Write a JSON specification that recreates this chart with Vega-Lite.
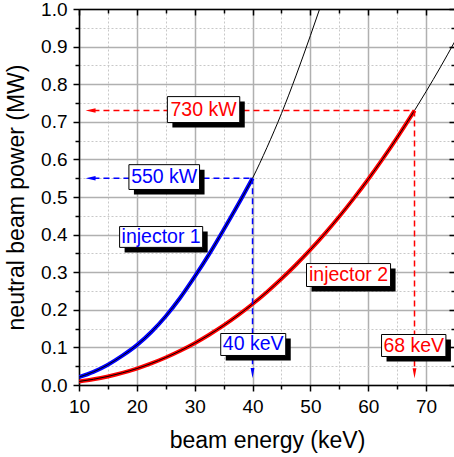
{
  "$schema": "https://vega.github.io/schema/vega-lite/v6.json",
  "width": 376,
  "height": 376,
  "autosize": {"type": "none"},
  "padding": {"left": 79, "top": 9, "right": 0, "bottom": 72},
  "background": "white",
  "config": {
    "view": {"stroke": null},
    "font": "Liberation Sans",
    "axis": {
      "labelFont": "Liberation Sans",
      "titleFont": "Liberation Sans",
      "labelColor": "black",
      "titleColor": "black",
      "tickColor": "black",
      "domainColor": "black",
      "labelFontSize": 19,
      "titleFontSize": 23,
      "titleFontWeight": "normal",
      "labelFlush": false,
      "labelOverlap": false,
      "labelBound": false,
      "tickWidth": 1.5,
      "domainWidth": 1.5,
      "labelPadding": 6,
      "titlePadding": 10
    }
  },
  "datasets": {
    "curves": [
      {"injector": "1", "energy": 10, "power": 0.021},
      {"injector": "1", "energy": 12.5, "power": 0.035},
      {"injector": "1", "energy": 15, "power": 0.054},
      {"injector": "1", "energy": 17.5, "power": 0.078},
      {"injector": "1", "energy": 20, "power": 0.106},
      {"injector": "1", "energy": 22.5, "power": 0.141},
      {"injector": "1", "energy": 25, "power": 0.183},
      {"injector": "1", "energy": 27.5, "power": 0.232},
      {"injector": "1", "energy": 30, "power": 0.288},
      {"injector": "1", "energy": 32.5, "power": 0.348},
      {"injector": "1", "energy": 35, "power": 0.413},
      {"injector": "1", "energy": 37.5, "power": 0.48},
      {"injector": "1", "energy": 40, "power": 0.55},
      {"injector": "1", "energy": 42.5, "power": 0.632},
      {"injector": "1", "energy": 45, "power": 0.722},
      {"injector": "1", "energy": 47.5, "power": 0.822},
      {"injector": "1", "energy": 50, "power": 0.929},
      {"injector": "1", "energy": 51.6, "power": 1.0},
      {"injector": "2", "energy": 10, "power": 0.0095},
      {"injector": "2", "energy": 12.5, "power": 0.0152},
      {"injector": "2", "energy": 15, "power": 0.0228},
      {"injector": "2", "energy": 17.5, "power": 0.0323},
      {"injector": "2", "energy": 20, "power": 0.0437},
      {"injector": "2", "energy": 22.5, "power": 0.0574},
      {"injector": "2", "energy": 25, "power": 0.0731},
      {"injector": "2", "energy": 27.5, "power": 0.091},
      {"injector": "2", "energy": 30, "power": 0.1112},
      {"injector": "2", "energy": 32.5, "power": 0.1337},
      {"injector": "2", "energy": 35, "power": 0.1584},
      {"injector": "2", "energy": 37.5, "power": 0.1857},
      {"injector": "2", "energy": 40, "power": 0.2154},
      {"injector": "2", "energy": 42.5, "power": 0.2476},
      {"injector": "2", "energy": 45, "power": 0.2825},
      {"injector": "2", "energy": 47.5, "power": 0.3199},
      {"injector": "2", "energy": 50, "power": 0.3599},
      {"injector": "2", "energy": 52.5, "power": 0.4027},
      {"injector": "2", "energy": 55, "power": 0.4481},
      {"injector": "2", "energy": 57.5, "power": 0.4964},
      {"injector": "2", "energy": 60, "power": 0.5473},
      {"injector": "2", "energy": 62.5, "power": 0.6013},
      {"injector": "2", "energy": 65, "power": 0.658},
      {"injector": "2", "energy": 67.5, "power": 0.7177},
      {"injector": "2", "energy": 68, "power": 0.73},
      {"injector": "2", "energy": 70, "power": 0.7804},
      {"injector": "2", "energy": 72.5, "power": 0.8459},
      {"injector": "2", "energy": 75, "power": 0.9146}
    ],
    "guides": [
      {"injector": "2", "x1": 12.5, "x2": 68, "y1": 0.73, "y2": 0.73},
      {"injector": "2", "x1": 68, "x2": 68, "y1": 0.73, "y2": 0.04},
      {"injector": "1", "x1": 12.5, "x2": 40, "y1": 0.55, "y2": 0.55},
      {"injector": "1", "x1": 40, "x2": 40, "y1": 0.55, "y2": 0.04}
    ],
    "arrows": [
      {"injector": "2", "dir": "left", "x": 12.0, "y": 0.73},
      {"injector": "1", "dir": "left", "x": 12.0, "y": 0.55},
      {"injector": "1", "dir": "down", "x": 40, "y": 0.032},
      {"injector": "2", "dir": "down", "x": 68, "y": 0.031}
    ],
    "notes": [
      {"injector": "2", "label": "730 kW", "x1": 25.28, "x2": 37.79, "y1": 0.698, "y2": 0.767, "xc": 31.53, "yc": 0.7325},
      {"injector": "1", "label": "550 kW", "x1": 18.63, "x2": 30.84, "y1": 0.52, "y2": 0.586, "xc": 24.73, "yc": 0.553},
      {"injector": "1", "label": "injector 1", "x1": 17.02, "x2": 31.38, "y1": 0.366, "y2": 0.4215, "xc": 24.2, "yc": 0.394},
      {"injector": "2", "label": "injector 2", "x1": 49.33, "x2": 63.86, "y1": 0.262, "y2": 0.323, "xc": 56.6, "yc": 0.2926},
      {"injector": "1", "label": "40 keV", "x1": 34.5, "x2": 45.74, "y1": 0.0785, "y2": 0.137, "xc": 40.12, "yc": 0.108},
      {"injector": "2", "label": "68 keV", "x1": 62.3, "x2": 73.43, "y1": 0.0758, "y2": 0.1343, "xc": 67.87, "yc": 0.105}
    ]
  },
  "layer": [
    {
      "data": {"name": "curves"},
      "transform": [{"filter": "datum.injector == '1' && datum.energy <= 40"}],
      "mark": {"type": "line", "color": "#0000ff", "strokeWidth": 4, "interpolate": "monotone", "clip": true},
      "encoding": {
        "x": {"field": "energy", "type": "quantitative", "scale": {"domain": [10, 75], "nice": false, "zero": false},
          "axis": {"orient": "bottom", "values": [15, 25, 35, 45, 55, 65, 75], "labels": false, "title": null, "tickSize": 4, "domain": false,
            "grid": true, "gridDash": [2, 2], "gridColor": "#c8c8c8", "gridWidth": 1}},
        "y": {"field": "power", "type": "quantitative", "scale": {"domain": [0, 1], "nice": false, "zero": false},
          "axis": {"orient": "left", "values": [0.05, 0.15, 0.25, 0.35, 0.45, 0.55, 0.65, 0.75, 0.85, 0.95], "labels": false, "title": null, "tickSize": 4, "domain": false,
            "grid": true, "gridDash": [2, 2], "gridColor": "#c8c8c8", "gridWidth": 1}}
      }
    },
    {
      "data": {"name": "curves"},
      "transform": [{"filter": "datum.injector == '2' && datum.energy <= 68"}],
      "mark": {"type": "line", "color": "#ff0000", "strokeWidth": 4, "interpolate": "monotone", "clip": true},
      "encoding": {
        "x": {"field": "energy", "type": "quantitative", "scale": {"domain": [10, 75], "nice": false, "zero": false},
          "axis": {"orient": "bottom", "values": [10, 20, 30, 40, 50, 60, 70], "format": "d", "title": "beam energy (keV)", "tickSize": 6, "domain": true,
            "grid": true, "gridColor": "#b0b0b0", "gridWidth": 1.5, "titlePadding": 13}},
        "y": {"field": "power", "type": "quantitative", "scale": {"domain": [0, 1], "nice": false, "zero": false},
          "axis": {"orient": "left", "values": [0, 0.1, 0.2, 0.3, 0.4, 0.5, 0.6, 0.7, 0.8, 0.9, 1.0], "format": ".1f", "title": "neutral beam power (MW)", "tickSize": 6, "domain": true,
            "grid": true, "gridColor": "#b0b0b0", "gridWidth": 1.5, "titlePadding": 12}}
      }
    },
    {
      "data": {"name": "curves"},
      "transform": [{"filter": "datum.injector == '1'"}],
      "mark": {"type": "line", "color": "black", "strokeWidth": 1, "interpolate": "monotone", "clip": true},
      "encoding": {
        "x": {"field": "energy", "type": "quantitative", "scale": {"domain": [10, 75], "nice": false, "zero": false},
          "axis": {"orient": "top", "values": [10, 20, 30, 40, 50, 60, 70], "labels": false, "title": null, "tickSize": -6, "domain": true, "grid": false}},
        "y": {"field": "power", "type": "quantitative", "scale": {"domain": [0, 1], "nice": false, "zero": false},
          "axis": {"orient": "right", "values": [0, 0.1, 0.2, 0.3, 0.4, 0.5, 0.6, 0.7, 0.8, 0.9, 1.0], "labels": false, "title": null, "tickSize": -6, "domain": true, "grid": false}}
      }
    },
    {
      "data": {"name": "curves"},
      "transform": [{"filter": "datum.injector == '2'"}],
      "mark": {"type": "line", "color": "black", "strokeWidth": 1, "interpolate": "monotone", "clip": true},
      "encoding": {
        "x": {"field": "energy", "type": "quantitative", "scale": {"domain": [10, 75], "nice": false, "zero": false},
          "axis": {"orient": "top", "values": [15, 25, 35, 45, 55, 65, 75], "labels": false, "title": null, "tickSize": -4, "domain": false, "grid": false}},
        "y": {"field": "power", "type": "quantitative", "scale": {"domain": [0, 1], "nice": false, "zero": false},
          "axis": {"orient": "right", "values": [0.05, 0.15, 0.25, 0.35, 0.45, 0.55, 0.65, 0.75, 0.85, 0.95], "labels": false, "title": null, "tickSize": -4, "domain": false, "grid": false}}
      }
    },
    {
      "data": {"name": "guides"},
      "mark": {"type": "rule", "strokeDash": [6, 4], "strokeWidth": 1.5},
      "encoding": {
        "x": {"field": "x1", "type": "quantitative", "axis": null},
        "x2": {"field": "x2"},
        "y": {"field": "y1", "type": "quantitative", "axis": null},
        "y2": {"field": "y2"},
        "color": {"field": "injector", "type": "nominal", "scale": {"domain": ["1", "2"], "range": ["#0000ff", "#ff0000"]}, "legend": null}
      }
    },
    {
      "data": {"name": "arrows"},
      "mark": {"type": "point", "filled": true, "opacity": 1, "size": 100, "strokeWidth": 0},
      "encoding": {
        "x": {"field": "x", "type": "quantitative", "axis": null},
        "y": {"field": "y", "type": "quantitative", "axis": null},
        "shape": {"field": "dir", "type": "nominal", "scale": {"domain": ["left", "down"], "range": ["M1,-0.45L-1,0L1,0.45Z", "M-0.38,-1L0.38,-1L0,1Z"]}, "legend": null},
        "color": {"field": "injector", "type": "nominal", "scale": {"domain": ["1", "2"], "range": ["#0000ff", "#ff0000"]}, "legend": null}
      }
    },
    {
      "data": {"name": "notes"},
      "mark": {"type": "rect", "color": "black", "xOffset": 5, "x2Offset": 5, "yOffset": 5, "y2Offset": 5},
      "encoding": {
        "x": {"field": "x1", "type": "quantitative", "axis": null},
        "x2": {"field": "x2"},
        "y": {"field": "y1", "type": "quantitative", "axis": null},
        "y2": {"field": "y2"}
      }
    },
    {
      "data": {"name": "notes"},
      "mark": {"type": "rect", "fill": "white", "stroke": "black", "strokeWidth": 1},
      "encoding": {
        "x": {"field": "x1", "type": "quantitative", "axis": null},
        "x2": {"field": "x2"},
        "y": {"field": "y1", "type": "quantitative", "axis": null},
        "y2": {"field": "y2"}
      }
    },
    {
      "data": {"name": "notes"},
      "mark": {"type": "text", "font": "Liberation Sans", "fontSize": 19.5, "align": "center", "baseline": "middle"},
      "encoding": {
        "x": {"field": "xc", "type": "quantitative", "axis": null},
        "y": {"field": "yc", "type": "quantitative", "axis": null},
        "text": {"field": "label"},
        "color": {"field": "injector", "type": "nominal", "scale": {"domain": ["1", "2"], "range": ["#0000ff", "#ff0000"]}, "legend": null}
      }
    }
  ],
  "resolve": {"axis": {"x": "independent", "y": "independent"}}
}
